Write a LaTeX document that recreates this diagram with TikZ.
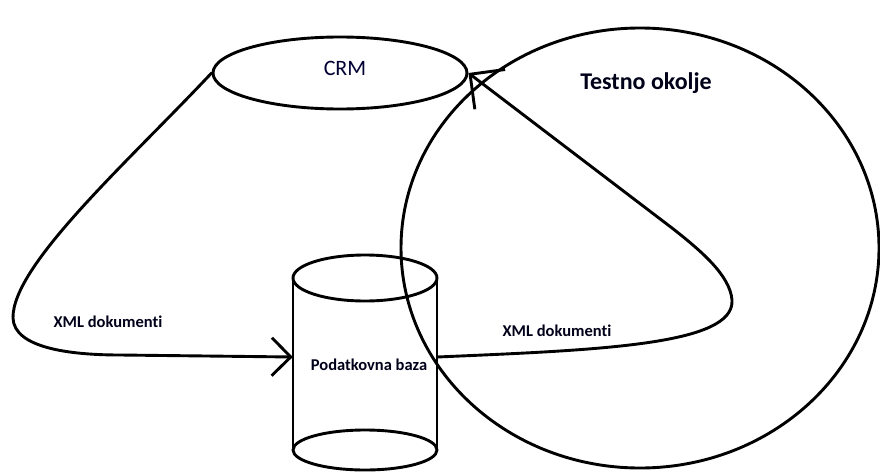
\documentclass[tikz,border=0pt]{standalone}
\usepackage{fontspec}
\setmainfont{Carlito}[Ligatures=NoCommon]
\usetikzlibrary{arrows.meta,shapes.geometric}
\begin{document}
\begin{tikzpicture}[x=1pt,y=-1pt,
  stroke/.style={line width=2.9pt, line cap=round, line join=round},
  connA/.style={stroke, -{Straight Barb[length=19pt,width=38pt]}},
  connB/.style={stroke, -{Straight Barb[length=25pt,width=50pt]}},
  small/.style={font=\bfseries\fontsize{16.5}{19}\selectfont, text=black!90!blue},
  big/.style={font=\bfseries\fontsize{24}{28}\selectfont, text=black!90!blue}]
\useasboundingbox (0,0) rectangle (880,471);
% CRM ellipse
\node[ellipse, draw, stroke, minimum width=254pt, minimum height=72pt, inner sep=0pt] (crm) at (340,73) {};
\node[font=\fontsize{22}{26}\selectfont, text=black!80!blue] (crmtext) at (345,68) {CRM};
% Testno okolje
\node[ellipse, draw, stroke, minimum width=478pt, minimum height=440pt, inner sep=0pt] (env) at (640,248) {};
\node[big] (envtext) at (646,83) {Testno okolje};
% Database cylinder
\node[minimum width=144pt, minimum height=170pt, inner sep=0pt] (db) at (365,357) {};
\draw[stroke] (365,278) ellipse [x radius=72pt, y radius=23pt];
\draw[stroke] (293,278) -- (293,451) (437,278) -- (437,451);
\draw[stroke] (365,450) ellipse [x radius=72pt, y radius=20pt];
\node[small] (dbtext) at (369,365) {Podatkovna baza};
% connectors
\draw[connA] (crm.west) .. controls (130,160) and (12,265) .. (13,318)
  .. controls (14,348) and (70,355) .. (120,355) -- (db.west);
\draw[connB] (db.east) .. controls (600,350) and (735,345) .. (732,300)
  .. controls (730,275) and (700,250) .. (672,228) -- (crm.east);
\node[small] (xml1) at (108,322) {XML dokumenti};
\node[small] (xml2) at (557,331) {XML dokumenti};
\end{tikzpicture}
\end{document}
